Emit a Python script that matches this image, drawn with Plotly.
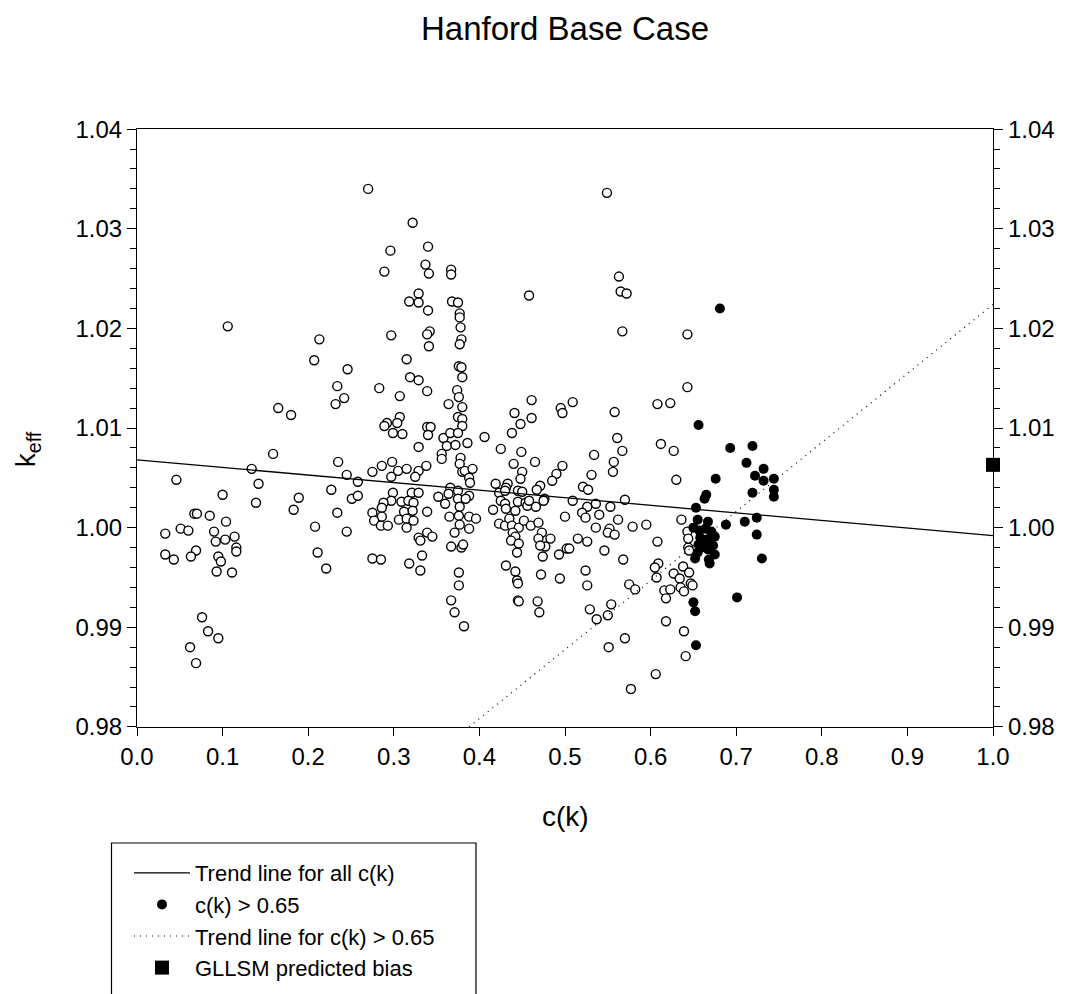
import plotly.graph_objects as go

# ---- data: all points (open circles) ----
open_x = [
    0.106, 0.213, 0.207, 0.246, 0.234, 0.242, 0.232, 0.165, 0.180,
    0.159, 0.235, 0.134, 0.245, 0.046, 0.142, 0.227, 0.100, 0.189, 0.251, 0.139, 0.183, 0.234, 0.067, 0.070,
    0.085, 0.104, 0.208, 0.051, 0.060, 0.033, 0.090, 0.245, 0.114, 0.103, 0.092, 0.116, 0.116, 0.069, 0.033,
    0.043, 0.063, 0.095, 0.098, 0.093, 0.111, 0.211, 0.221, 0.076, 0.083, 0.095, 0.062, 0.069,
    0.270, 0.322, 0.296, 0.340, 0.289, 0.337, 0.341, 0.367, 0.367, 0.458, 0.329, 0.318, 0.329, 0.340, 0.368,
    0.375, 0.377, 0.377, 0.378, 0.342, 0.339, 0.297, 0.379, 0.377, 0.341, 0.315, 0.376, 0.379, 0.380, 0.319,
    0.329, 0.283, 0.339, 0.374, 0.307, 0.376, 0.364, 0.380, 0.461, 0.441, 0.461, 0.495, 0.497, 0.307, 0.304,
    0.292, 0.289, 0.375, 0.380, 0.448, 0.339, 0.343, 0.380,
    0.299, 0.310, 0.340, 0.358, 0.366, 0.375, 0.406, 0.438, 0.362, 0.372, 0.386, 0.329, 0.425, 0.449, 0.356,
    0.356, 0.378, 0.377, 0.440, 0.465, 0.497, 0.275, 0.286, 0.298, 0.305, 0.315, 0.329, 0.338, 0.325, 0.297,
    0.380, 0.383, 0.392, 0.388, 0.389, 0.450, 0.448, 0.490, 0.485, 0.471, 0.467, 0.419, 0.433, 0.431, 0.258,
    0.258, 0.366, 0.375, 0.364, 0.388, 0.423, 0.430, 0.445, 0.450, 0.299, 0.321, 0.329, 0.476, 0.352, 0.360,
    0.375, 0.384, 0.377, 0.297, 0.309, 0.317, 0.323, 0.288, 0.286, 0.275, 0.286, 0.312, 0.322, 0.339, 0.365,
    0.376, 0.388, 0.396, 0.416, 0.425, 0.430, 0.431, 0.442, 0.445, 0.454, 0.456, 0.466, 0.458, 0.475, 0.500,
    0.277, 0.285, 0.293, 0.306, 0.315, 0.323, 0.315, 0.377, 0.388, 0.371, 0.423, 0.430, 0.435, 0.438, 0.446,
    0.452, 0.460, 0.469, 0.473, 0.483, 0.339, 0.345, 0.329, 0.331, 0.439, 0.442, 0.437, 0.446, 0.469, 0.477,
    0.471, 0.367, 0.379, 0.381, 0.275, 0.285, 0.318, 0.333, 0.331, 0.444, 0.474, 0.493, 0.502, 0.376, 0.376,
    0.367, 0.371, 0.382, 0.431, 0.442, 0.444, 0.445, 0.445, 0.446, 0.468, 0.470, 0.472, 0.494,
    0.549, 0.563, 0.565, 0.572, 0.567, 0.643, 0.643, 0.608, 0.623, 0.558, 0.509,
    0.561, 0.612, 0.567, 0.627, 0.534, 0.557, 0.556, 0.531, 0.630, 0.521, 0.527, 0.509, 0.536, 0.570, 0.526,
    0.553, 0.520, 0.524, 0.540, 0.562, 0.536, 0.579, 0.595, 0.552, 0.550, 0.558, 0.515, 0.526, 0.608, 0.505,
    0.546, 0.568, 0.636, 0.643, 0.644, 0.645, 0.524, 0.609, 0.605, 0.607, 0.638, 0.645, 0.627, 0.634, 0.526,
    0.575, 0.582, 0.616, 0.623, 0.635, 0.639, 0.647, 0.649, 0.618, 0.554, 0.529, 0.550, 0.537, 0.618, 0.639,
    0.570, 0.551, 0.641, 0.606, 0.577, 0.644,
]
open_y = [
    1.0202, 1.0189, 1.0168, 1.0159, 1.0142, 1.0130, 1.0124, 1.0120, 1.0113,
    1.0074, 1.0066, 1.0059, 1.0053, 1.0048, 1.0044, 1.0038, 1.0033, 1.0030, 1.0029, 1.0025, 1.0018, 1.0015, 1.0014, 1.0014,
    1.0012, 1.0006, 1.0001, 0.9999, 0.9997, 0.9994, 0.9996, 0.9996, 0.9991, 0.9988, 0.9986, 0.9980, 0.9976, 0.9977, 0.9973,
    0.9968, 0.9971, 0.9971, 0.9966, 0.9956, 0.9955, 0.9975, 0.9959, 0.9910, 0.9896, 0.9889, 0.9880, 0.9864,
    1.0340, 1.0306, 1.0278, 1.0282, 1.0257, 1.0264, 1.0255, 1.0259, 1.0254, 1.0233, 1.0235, 1.0227, 1.0226, 1.0218, 1.0227,
    1.0226, 1.0215, 1.0211, 1.0201, 1.0197, 1.0194, 1.0193, 1.0189, 1.0184, 1.0182, 1.0169, 1.0162, 1.0161, 1.0151, 1.0151,
    1.0148, 1.0140, 1.0137, 1.0138, 1.0132, 1.0131, 1.0124, 1.0121, 1.0128, 1.0115, 1.0110, 1.0120, 1.0115, 1.0111, 1.0105,
    1.0105, 1.0102, 1.0111, 1.0109, 1.0104, 1.0101, 1.0101, 1.0102,
    1.0095, 1.0094, 1.0093, 1.0090, 1.0095, 1.0095, 1.0091, 1.0095, 1.0082, 1.0083, 1.0085, 1.0081, 1.0079, 1.0076, 1.0074,
    1.0069, 1.0070, 1.0064, 1.0064, 1.0066, 1.0062, 1.0056, 1.0062, 1.0066, 1.0057, 1.0059, 1.0057, 1.0062, 1.0051, 1.0051,
    1.0056, 1.0057, 1.0059, 1.0050, 1.0045, 1.0056, 1.0049, 1.0054, 1.0047, 1.0042, 1.0038, 1.0044, 1.0044, 1.0040, 1.0046,
    1.0032, 1.0040, 1.0037, 1.0034, 1.0032, 1.0035, 1.0037, 1.0037, 1.0036, 1.0035, 1.0035, 1.0035, 1.0029, 1.0031, 1.0024,
    1.0029, 1.0029, 1.0021, 1.0027, 1.0026, 1.0027, 1.0025, 1.0025, 1.0020, 1.0015, 1.0011, 1.0016, 1.0017, 1.0016, 1.0011,
    1.0012, 1.0011, 1.0009, 1.0018, 1.0027, 1.0024, 1.0019, 1.0017, 1.0026, 1.0025, 1.0022, 1.0021, 1.0027, 1.0027, 1.0011,
    1.0007, 1.0002, 1.0002, 1.0008, 1.0009, 1.0007, 1.0000, 1.0003, 0.9999, 0.9995, 1.0004, 1.0002, 1.0009, 1.0002, 1.0000,
    1.0007, 1.0002, 1.0005, 0.9995, 0.9989, 0.9995, 0.9991, 0.9990, 0.9987, 0.9995, 0.9991, 0.9987, 0.9984, 0.9989, 0.9981,
    0.9982, 0.9981, 0.9980, 0.9983, 0.9969, 0.9968, 0.9964, 0.9972, 0.9957, 0.9975, 0.9971, 0.9973, 0.9979, 0.9955, 0.9942,
    0.9927, 0.9915, 0.9901, 0.9962, 0.9956, 0.9947, 0.9944, 0.9927, 0.9926, 0.9926, 0.9915, 0.9953, 0.9949,
    1.0336, 1.0252, 1.0237, 1.0235, 1.0197, 1.0194, 1.0141, 1.0124, 1.0125, 1.0116, 1.0126,
    1.0090, 1.0084, 1.0077, 1.0077, 1.0073, 1.0066, 1.0056, 1.0053, 1.0048, 1.0041, 1.0038, 1.0027, 1.0024, 1.0028, 1.0021,
    1.0021, 1.0015, 1.0010, 1.0013, 1.0008, 1.0000, 1.0001, 1.0003, 0.9999, 0.9995, 0.9993, 0.9989, 0.9986, 0.9986, 0.9979,
    0.9977, 0.9968, 1.0008, 0.9996, 0.9980, 0.9977, 0.9957, 0.9964, 0.9960, 0.9950, 0.9961, 0.9955, 0.9954, 0.9949, 0.9942,
    0.9943, 0.9938, 0.9937, 0.9938, 0.9940, 0.9936, 0.9944, 0.9942, 0.9929, 0.9923, 0.9918, 0.9912, 0.9908, 0.9906, 0.9896,
    0.9889, 0.9880, 0.9871, 0.9853, 0.9838, 0.9989,
]

# ---- data: c(k) > 0.65 (filled circles) ----
hi_x = [
    0.681, 0.656, 0.693, 0.719, 0.712, 0.732, 0.722, 0.732, 0.744, 0.744, 0.744, 0.676, 0.719, 0.665, 0.663,
    0.653, 0.724, 0.710, 0.688, 0.724, 0.730, 0.701, 0.650, 0.652, 0.653,
    0.655, 0.667, 0.650, 0.657, 0.664, 0.671, 0.675, 0.658, 0.666, 0.656, 0.673, 0.667, 0.660, 0.652, 0.669,
    0.675, 0.663, 0.670, 0.655, 0.668,
]
hi_y = [
    1.0220, 1.0103, 1.0080, 1.0082, 1.0065, 1.0059, 1.0052, 1.0047, 1.0049, 1.0038, 1.0031, 1.0049, 1.0035, 1.0033, 1.0029,
    1.0020, 1.0010, 1.0006, 1.0003, 0.9993, 0.9969, 0.9930, 0.9925, 0.9916, 0.9882,
    1.0008, 1.0006, 1.0000, 0.9997, 0.9999, 0.9996, 0.9991, 0.9990, 0.9988, 0.9983, 0.9982, 0.9978, 0.9980, 0.9969, 0.9964,
    0.9973, 0.9985, 0.9990, 0.9975, 0.9968,
]

# ---- trend lines (end points) ----
trend_all_x = [0.0, 1.0]
trend_all_y = [1.0068, 0.9992]
trend_hi_x = [0.388, 1.0]
trend_hi_y = [0.9800, 1.0224]

# ---- GLLSM predicted bias ----
gllsm_x = [1.0]
gllsm_y = [1.0063]

FONT = "Liberation Sans, Arial, sans-serif"

fig = go.Figure()

fig.add_trace(go.Scatter(
    x=open_x, y=open_y, mode="markers", showlegend=False,
    marker=dict(symbol="circle", size=9, color="white", line=dict(color="black", width=1.4)),
))
fig.add_trace(go.Scatter(
    x=trend_all_x, y=trend_all_y, mode="lines", name="Trend line for all c(k)",
    line=dict(color="black", width=1.3),
))
fig.add_trace(go.Scatter(
    x=hi_x, y=hi_y, mode="markers", name="c(k) > 0.65",
    marker=dict(symbol="circle", size=10, color="black", line=dict(width=0)),
))
fig.add_trace(go.Scatter(
    x=trend_hi_x, y=trend_hi_y, mode="lines", name="Trend line for c(k) > 0.65",
    line=dict(color="black", width=1.2, dash="1px,5px"),
))
fig.add_trace(go.Scatter(
    x=gllsm_x, y=gllsm_y, mode="markers", name="GLLSM predicted bias", yaxis="y2",
    marker=dict(symbol="square", size=14, color="black"), cliponaxis=False,
))

axis_common = dict(
    showgrid=False, zeroline=False, showline=True, linecolor="black", linewidth=1.2,
    ticks="outside", tickcolor="black", tickwidth=1.2, automargin=False,
    tickfont=dict(family=FONT, size=24, color="black"),
)

fig.update_layout(
    width=1067, height=994,
    margin=dict(l=137, r=74, t=129, b=267, autoexpand=False),
    plot_bgcolor="white", paper_bgcolor="white",
    title=dict(text="Hanford Base Case", x=0.5, xref="paper", y=1 - 28 / 994, yref="container",
               xanchor="center", yanchor="middle", font=dict(family=FONT, size=33, color="black")),
    xaxis=dict(range=[0, 1], tick0=0, dtick=0.1, tickformat=".1f", ticklen=8, mirror=True, **axis_common),
    yaxis=dict(range=[0.97999, 1.04001], tick0=0.98, dtick=0.01, tickformat=".2f", ticklen=9,
               minor=dict(dtick=0.002, ticks="outside", ticklen=6, tickcolor="black", tickwidth=1.2),
               **axis_common),
    yaxis2=dict(range=[0.97999, 1.04001], tick0=0.98, dtick=0.01, tickformat=".2f", ticklen=9,
                overlaying="y", side="right", anchor="x",
                minor=dict(dtick=0.002, ticks="outside", ticklen=6, tickcolor="black", tickwidth=1.2),
                **axis_common),
    showlegend=True,
    legend=dict(x=129 / 1067, y=1 - 852 / 994, xanchor="left", yanchor="top", xref="container", yref="container",
                font=dict(family=FONT, size=22, color="black"), bgcolor="rgba(0,0,0,0)",
                borderwidth=0, itemwidth=56, traceorder="normal"),
    shapes=[dict(type="rect", xref="paper", yref="paper", x0=-0.0298, x1=0.396, y0=-0.194, y1=-0.47,
                 line=dict(color="black", width=1.2), fillcolor="rgba(0,0,0,0)", layer="below")],
    annotations=[
        dict(text="c(k)", x=0.5, y=-0.150, xref="paper", yref="paper", showarrow=False,
             font=dict(family=FONT, size=28, color="black"), xanchor="center", yanchor="middle"),
        dict(text="k<sub>eff</sub>", x=-0.127, y=0.465, xref="paper", yref="paper", showarrow=False,
             textangle=-90, font=dict(family=FONT, size=28, color="black"), xanchor="center", yanchor="middle"),
    ],
)

fig.write_html("out.html")
